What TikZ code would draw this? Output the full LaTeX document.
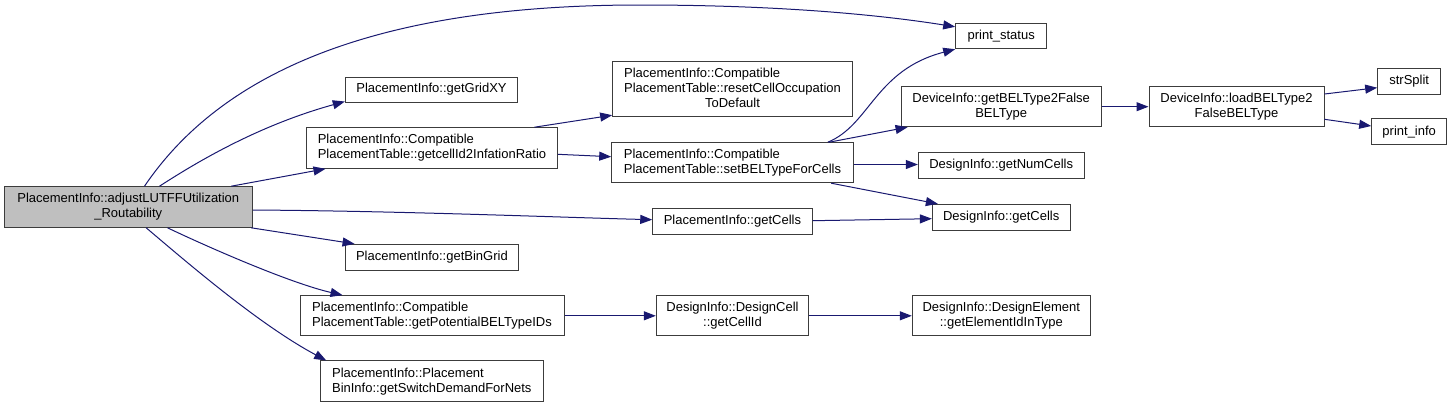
\documentclass[tikz,border=0pt]{standalone}
\usepackage{fontspec}
\setmainfont{Liberation Sans}
\usetikzlibrary{arrows.meta,calc}
\definecolor{edgec}{HTML}{191970}
\definecolor{boxc}{HTML}{3C3C3C}
\definecolor{mainfill}{HTML}{BFBFBF}
\begin{document}
\begin{tikzpicture}[x=1pt,y=-1pt,
  box/.style={draw=boxc, line width=1pt, fill=white, rectangle, inner sep=0pt,
    font=\fontsize{13}{15}\selectfont, align=center},
  lbox/.style={box, align=left},
  edge/.style={draw=edgec, line width=1pt, -{Triangle[length=12pt,width=9pt]}}]
\useasboundingbox (0,0) rectangle (1452,408);
% nodes
\node[box, fill=mainfill, minimum width=248pt, minimum height=40.6pt] (main) at (128.3,207) {PlacementInfo::adjustLUTFFUtilization\\\_Routability};
\node[box, minimum width=91pt, minimum height=25.4pt] (ps) at (1001.2,36) {print\_status};
\node[box, minimum width=172.4pt, minimum height=25pt] (ggxy) at (431.5,89.5) {PlacementInfo::getGridXY};
\node[lbox, minimum width=250.6pt, minimum height=40.6pt] (gc2) at (432,148) {PlacementInfo::Compatible\\PlacementTable::getcellId2InfationRatio};
\node[box, minimum width=239.6pt, minimum height=55pt] (reset) at (732.5,89.2) {\begin{tabular}{@{}l@{}}PlacementInfo::Compatible\\PlacementTable::resetCellOccupation\\\multicolumn{1}{@{}c@{}}{ToDefault}\end{tabular}};
\node[lbox, minimum width=241.6pt, minimum height=40pt] (setbel) at (732.5,162.7) {PlacementInfo::Compatible\\PlacementTable::setBELTypeForCells};
\node[box, minimum width=200.3pt, minimum height=40pt] (gbt) at (1001.2,106.7) {DeviceInfo::getBELType2False\\BELType};
\node[box, minimum width=175pt, minimum height=40pt] (load) at (1236.5,106.7) {DeviceInfo::loadBELType2\\FalseBELType};
\node[box, minimum width=63pt, minimum height=26pt] (split) at (1409.2,81.3) {strSplit};
\node[box, minimum width=75pt, minimum height=26pt] (pinfo) at (1409.2,131.7) {print\_info};
\node[box, minimum width=165.7pt, minimum height=26pt] (numc) at (1001.2,165.3) {DesignInfo::getNumCells};
\node[box, minimum width=137.7pt, minimum height=25.7pt] (dicells) at (1001.2,217.2) {DesignInfo::getCells};
\node[box, minimum width=159.3pt, minimum height=26pt] (picells) at (732.4,221.3) {PlacementInfo::getCells};
\node[box, minimum width=173.7pt, minimum height=25.7pt] (bingrid) at (431.9,257.2) {PlacementInfo::getBinGrid};
\node[lbox, minimum width=264pt, minimum height=40.3pt] (pot) at (432,315.8) {PlacementInfo::Compatible\\PlacementTable::getPotentialBELTypeIDs};
\node[box, minimum width=152.4pt, minimum height=40.3pt] (cellid) at (732.5,315.8) {DesignInfo::DesignCell\\::getCellId};
\node[box, minimum width=178pt, minimum height=40.3pt] (elem) at (1001.3,315.8) {DesignInfo::DesignElement\\::getElementIdInType};
\node[lbox, minimum width=223pt, minimum height=40.7pt] (sw) at (431.8,381.3) {PlacementInfo::Placement\\BinInfo::getSwitchDemandForNets};
% edges
\draw[edge] ($(main.north west)+(140.7,0)$) .. controls (230,60) and (400,5) .. (640,5) .. controls (800,5) and (900,18) .. ($(ps.north west)+(0,4)$);
\draw[edge] ($(main.north west)+(155.7,0)$) .. controls (200,160) and (260,125) .. ($(ggxy.south west)+(0,-1)$);
\draw[edge] ($(main.north west)+(227.4,0)$) -- ($(gc2.south west)+(19.3,0)$);
\draw[edge] ($(main.east)+(0,3)$) .. controls (400,211) and (550,217) .. ($(picells.west)+(0,-1.6)$);
\draw[edge] ($(main.south east)+(-1.6,0)$) -- ($(bingrid.north west)+(10,0)$);
\draw[edge] ($(main.south west)+(163.7,0)$) .. controls (210,248) and (290,283) .. ($(pot.north west)+(43,0)$);
\draw[edge] ($(main.south west)+(142.4,0)$) .. controls (190,265) and (260,325) .. ($(sw.north west)+(6.4,0)$);
\draw[edge] ($(gc2.north west)+(228.3,0)$) -- ($(reset.south west)+(0,-2)$);
\draw[edge] ($(gc2.east)+(0,6.3)$) -- ($(setbel.west)+(0,-6)$);
\draw[edge] (pot.east) -- (cellid.west);
\draw[edge] ($(setbel.north west)+(216.6,0)$) .. controls (870,125) and (875,70) .. (ps.south west);
\draw[edge] ($(setbel.north west)+(218,0)$) -- ($(gbt.south west)+(7,0)$);
\draw[edge] ($(setbel.east)+(0,1.8)$) -- ($(numc.west)+(0,-0.8)$);
\draw[edge] ($(setbel.south west)+(220,0)$) -- ($(dicells.north west)+(6,0)$);
\draw[edge] ($(picells.east)+(0,-0.6)$) -- ($(dicells.west)+(0,1.5)$);
\draw[edge] (cellid.east) -- (elem.west);
\draw[edge] (gbt.east) -- (load.west);
\draw[edge] ($(load.east)+(0,-12.7)$) -- ($(split.west)+(0,6.4)$);
\draw[edge] ($(load.east)+(0,12.6)$) -- ($(pinfo.west)+(0,-5.7)$);
\end{tikzpicture}
\end{document}
